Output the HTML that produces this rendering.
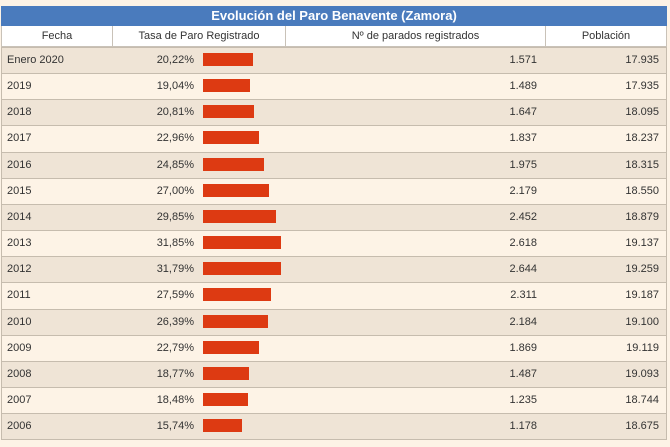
<!DOCTYPE html>
<html><head><meta charset="utf-8"><style>
html,body{margin:0;padding:0}
body{width:670px;height:447px;background:#fdf3e6;font-family:"Liberation Sans",sans-serif;position:relative}
.t{position:absolute;left:1px;top:6px;width:666px;height:20px;background:#4a7bbd;color:#fff;font-weight:bold;font-size:13px;text-align:center;line-height:20px}
.h{position:absolute;top:26px;height:21px;background:#fff;border:1px solid #c9c2b8;border-top:none;box-sizing:border-box;font-size:11px;color:#333;text-align:center;line-height:20px}
.r{position:absolute;left:1px;width:666px;height:27px;border-top:1px solid #c6bcae;border-left:1px solid #c6bcae;border-right:1px solid #c6bcae;box-sizing:border-box;font-size:11px;color:#333;line-height:25px}
.r span{position:absolute;top:0}
.a{left:5px}.p{right:472px}.n{right:129px}.q{right:7px}
.b{position:absolute;left:201px;top:5px;height:13px;background:#dd3a12}
.o{background:#efe4d6}.e{background:#fdf3e6}
</style></head><body>
<div class="t">Evolución del Paro Benavente (Zamora)</div>
<div class="r o" style="top:47px"><span class="a">Enero 2020</span><span class="p">20,22%</span><div class="b" style="width:50px"></div><span class="n">1.571</span><span class="q">17.935</span></div>
<div class="r e" style="top:73px"><span class="a">2019</span><span class="p">19,04%</span><div class="b" style="width:47px"></div><span class="n">1.489</span><span class="q">17.935</span></div>
<div class="r o" style="top:99px"><span class="a">2018</span><span class="p">20,81%</span><div class="b" style="width:51px"></div><span class="n">1.647</span><span class="q">18.095</span></div>
<div class="r e" style="top:125px"><span class="a">2017</span><span class="p">22,96%</span><div class="b" style="width:56px"></div><span class="n">1.837</span><span class="q">18.237</span></div>
<div class="r o" style="top:152px"><span class="a">2016</span><span class="p">24,85%</span><div class="b" style="width:61px"></div><span class="n">1.975</span><span class="q">18.315</span></div>
<div class="r e" style="top:178px"><span class="a">2015</span><span class="p">27,00%</span><div class="b" style="width:66px"></div><span class="n">2.179</span><span class="q">18.550</span></div>
<div class="r o" style="top:204px"><span class="a">2014</span><span class="p">29,85%</span><div class="b" style="width:73px"></div><span class="n">2.452</span><span class="q">18.879</span></div>
<div class="r e" style="top:230px"><span class="a">2013</span><span class="p">31,85%</span><div class="b" style="width:78px"></div><span class="n">2.618</span><span class="q">19.137</span></div>
<div class="r o" style="top:256px"><span class="a">2012</span><span class="p">31,79%</span><div class="b" style="width:78px"></div><span class="n">2.644</span><span class="q">19.259</span></div>
<div class="r e" style="top:282px"><span class="a">2011</span><span class="p">27,59%</span><div class="b" style="width:68px"></div><span class="n">2.311</span><span class="q">19.187</span></div>
<div class="r o" style="top:309px"><span class="a">2010</span><span class="p">26,39%</span><div class="b" style="width:65px"></div><span class="n">2.184</span><span class="q">19.100</span></div>
<div class="r e" style="top:335px"><span class="a">2009</span><span class="p">22,79%</span><div class="b" style="width:56px"></div><span class="n">1.869</span><span class="q">19.119</span></div>
<div class="r o" style="top:361px"><span class="a">2008</span><span class="p">18,77%</span><div class="b" style="width:46px"></div><span class="n">1.487</span><span class="q">19.093</span></div>
<div class="r e" style="top:387px"><span class="a">2007</span><span class="p">18,48%</span><div class="b" style="width:45px"></div><span class="n">1.235</span><span class="q">18.744</span></div>
<div class="r o" style="top:413px;border-bottom:1px solid #c6bcae"><span class="a">2006</span><span class="p">15,74%</span><div class="b" style="width:39px"></div><span class="n">1.178</span><span class="q">18.675</span></div>
<div class="h" style="left:1px;width:112px">Fecha</div>
<div class="h" style="left:112px;width:174px">Tasa de Paro Registrado</div>
<div class="h" style="left:285px;width:261px">Nº de parados registrados</div>
<div class="h" style="left:545px;width:122px">Población</div>
</body></html>
